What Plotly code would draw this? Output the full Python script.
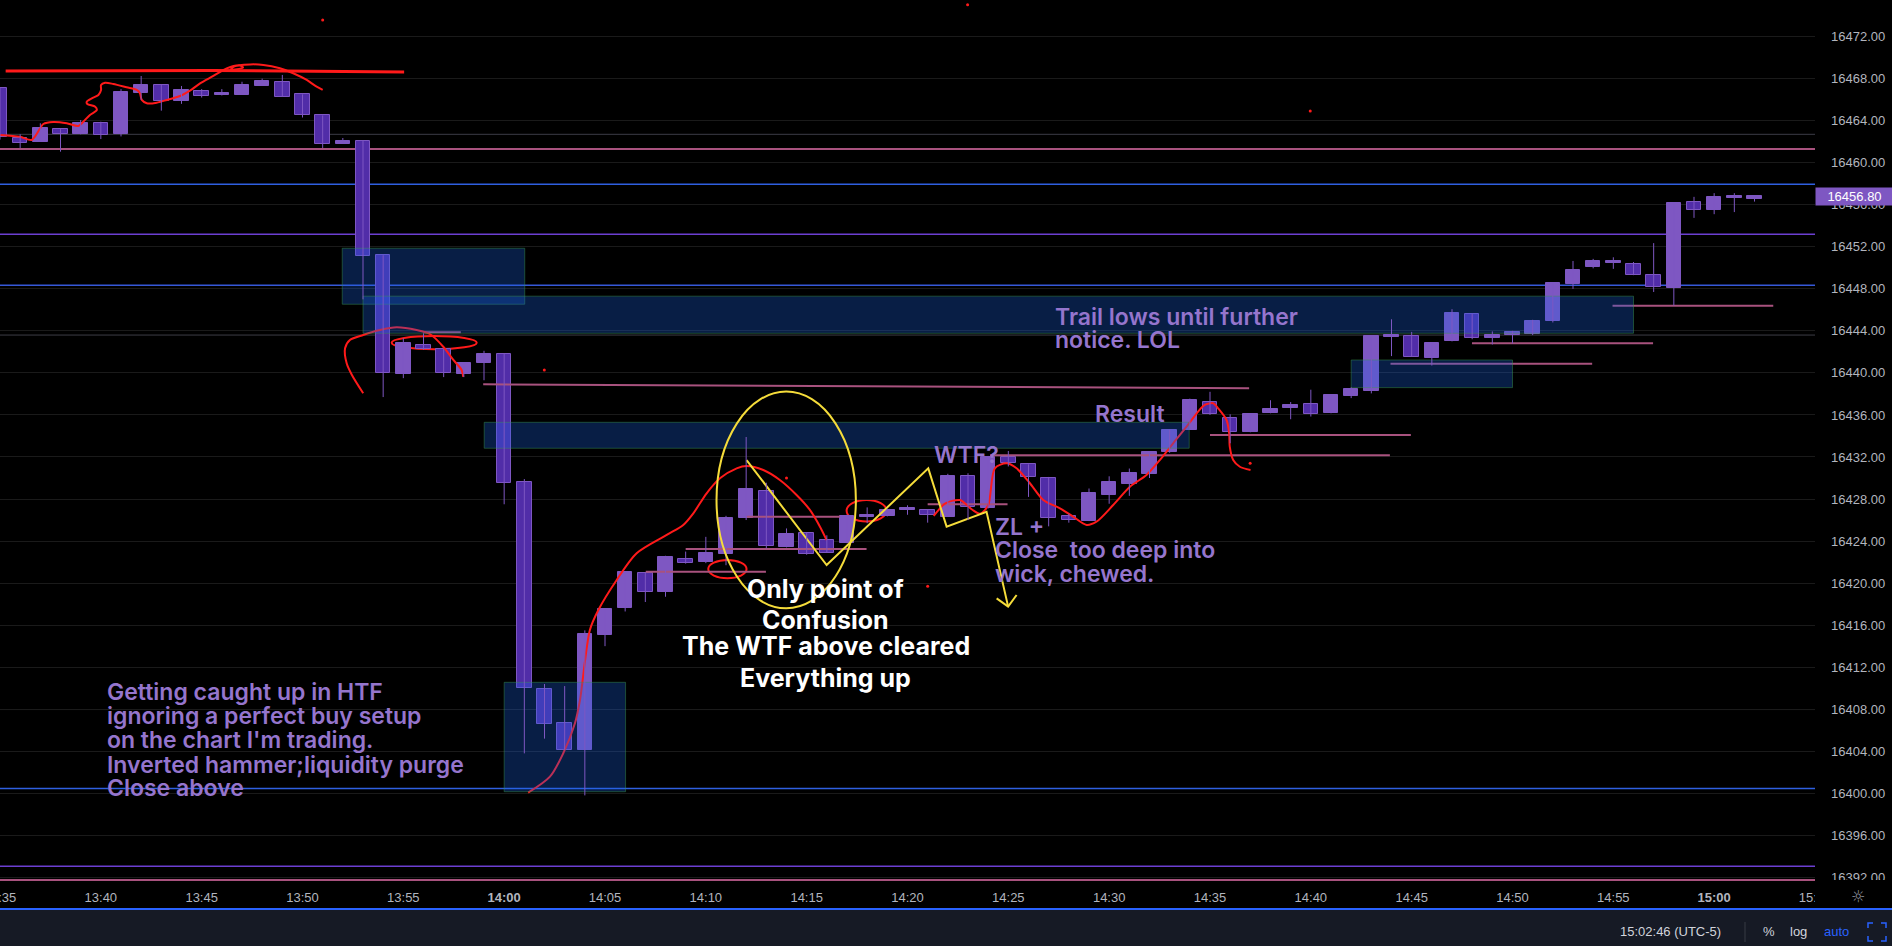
import plotly.graph_objects as go

# ---------------- candle data (x = minutes relative to 14:00) ----------------
minutes = list(range(-25, 63))
opens = [16467.1, 16462.35, 16462.0, 16463.2, 16462.7, 16463.75, 16462.7, 16466.66, 16467.37, 16465.9,
         16466.8, 16466.4, 16466.47, 16467.3, 16467.65, 16466.5, 16464.5, 16461.8, 16462.1, 16451.2,
         16439.9, 16442.7, 16442.27, 16439.93, 16440.9, 16441.8, 16429.6, 16409.9, 16406.66, 16404.1,
         16415.1, 16417.6, 16421.0, 16419.13, 16422.3, 16422.0, 16422.8, 16426.2, 16428.8, 16423.4,
         16424.8, 16424.07, 16423.8, 16426.3, 16426.35, 16426.95, 16427.0, 16426.3, 16430.16, 16427.1,
         16431.97, 16431.3, 16429.97, 16426.4, 16425.9, 16428.4, 16429.45, 16430.4, 16432.5, 16434.6,
         16437.2, 16435.68, 16434.35, 16436.16, 16436.7, 16437.0, 16436.16, 16437.8, 16438.25, 16443.4,
         16443.5, 16441.45, 16443.0, 16445.6, 16443.35, 16443.6, 16443.7, 16444.95, 16448.45, 16450.1,
         16450.45, 16450.36, 16449.3, 16448.1, 16456.3, 16455.5, 16456.65, 16456.55]
highs = [16467.1, 16462.7, 16463.75, 16463.2, 16464.06, 16463.9, 16467.0, 16468.25, 16467.4, 16467.3,
         16467.0, 16467.0, 16467.7, 16468.0, 16468.35, 16466.5, 16464.5, 16462.35, 16462.1, 16451.2,
         16443.3, 16443.77, 16442.27, 16440.94, 16442.1, 16441.8, 16429.9, 16410.4, 16410.2, 16415.5,
         16417.5, 16421.05, 16421.0, 16422.6, 16423.0, 16424.4, 16426.4, 16433.9, 16429.55, 16425.2,
         16424.8, 16424.55, 16426.5, 16427.2, 16427.1, 16427.4, 16427.0, 16430.4, 16430.45, 16432.1,
         16432.57, 16431.3, 16430.1, 16426.6, 16429.0, 16430.16, 16430.9, 16432.5, 16434.6, 16437.55,
         16438.2, 16436.06, 16436.1, 16437.4, 16437.23, 16438.4, 16437.9, 16438.63, 16443.5, 16445.1,
         16443.9, 16442.85, 16446.06, 16445.6, 16443.95, 16444.0, 16445.05, 16448.55, 16450.65, 16450.85,
         16451.0, 16450.55, 16452.35, 16456.2, 16456.75, 16457.1, 16457.1, 16456.85]
lows = [16462.2, 16461.4, 16462.0, 16461.05, 16462.7, 16462.25, 16462.5, 16465.97, 16464.95, 16465.6,
        16466.2, 16466.4, 16466.47, 16467.3, 16466.28, 16464.3, 16461.4, 16461.8, 16447.0, 16437.7,
        16439.5, 16442.2, 16439.6, 16439.6, 16439.3, 16427.5, 16403.8, 16405.2, 16404.1, 16399.8,
        16414.0, 16417.3, 16418.2, 16418.7, 16421.85, 16421.9, 16421.7, 16426.0, 16423.3, 16423.4,
        16422.7, 16422.9, 16423.8, 16425.7, 16426.35, 16426.5, 16425.75, 16426.3, 16426.0, 16427.1,
        16431.1, 16428.2, 16425.4, 16425.75, 16425.9, 16427.55, 16428.3, 16430.0, 16432.4, 16434.6,
        16436.0, 16433.3, 16434.35, 16436.16, 16435.59, 16435.85, 16436.16, 16437.6, 16438.05, 16441.6,
        16441.55, 16440.7, 16443.0, 16443.2, 16442.7, 16442.8, 16443.6, 16444.8, 16448.0, 16449.95,
        16449.9, 16449.3, 16447.7, 16446.4, 16454.75, 16455.1, 16455.3, 16456.3]
closes = [16462.4, 16461.9, 16463.3, 16462.7, 16463.8, 16462.6, 16466.7, 16467.4, 16465.9, 16466.9,
          16466.3, 16466.6, 16467.4, 16467.8, 16466.28, 16464.57, 16461.75, 16462.06, 16451.1, 16440.0,
          16442.85, 16442.3, 16439.96, 16440.94, 16441.8, 16429.5, 16410.0, 16406.6, 16404.1, 16415.15,
          16417.5, 16421.05, 16419.2, 16422.5, 16421.95, 16422.9, 16426.2, 16428.95, 16423.5, 16424.7,
          16422.8, 16422.9, 16426.4, 16426.35, 16426.97, 16427.0, 16426.45, 16430.2, 16427.24, 16432.0,
          16431.4, 16430.07, 16426.17, 16425.97, 16428.55, 16429.6, 16430.45, 16432.5, 16434.6, 16437.4,
          16436.06, 16434.35, 16436.1, 16436.6, 16436.93, 16436.06, 16437.9, 16438.45, 16443.5, 16443.6,
          16441.55, 16442.85, 16445.7, 16443.35, 16443.57, 16443.9, 16444.95, 16448.55, 16449.8, 16450.65,
          16450.6, 16449.3, 16448.2, 16456.2, 16455.5, 16456.75, 16456.7, 16456.8]
last_price = 16456.80

# ---------------- axis ticks ----------------
x_tick_vals = list(range(-25, 66, 5))
x_tick_labels = ["13:35", "13:40", "13:45", "13:50", "13:55", "14:00", "14:05", "14:10", "14:15", "14:20",
                 "14:25", "14:30", "14:35", "14:40", "14:45", "14:50", "14:55", "15:00", "15:05"]
x_bold_labels = ["14:00", "15:00"]
y_tick_vals = list(range(16392, 16473, 4))
y_range = [16391.56, 16475.48]
x_range = [-25, 65]

# ---------------- drawings (minutes, price) ----------------
h_line_prices = [16462.70, 16461.30, 16457.95, 16453.20, 16448.33, 16443.60, 16407.97, 16400.45, 16393.07, 16391.75]
h_line_colors = ["#3c3c46", "#a8527e", "#2f5fe0", "#6c3fd1", "#3658d8", "#3c3c46", "#3c3c46", "#2f5fe0", "#6c3fd1", "#a8527e"]
h_line_widths = [1, 2, 1.5, 1.5, 1.5, 1, 1, 1.5, 1.5, 2]

seg_t0 = [-1.04, 12.02, 9.0, 7.02, 21.0, 24.09, 35.0, 43.95, 47.99, 54.96, -4.0]
seg_t1 = [36.94, 16.65, 17.97, 12.98, 24.96, 43.92, 44.96, 53.95, 56.97, 62.93, -2.15]
seg_p0 = [16438.92, 16426.32, 16423.24, 16421.08, 16427.50, 16432.16, 16434.09, 16440.88, 16442.82, 16446.39, 16443.86]
seg_p1 = [16438.53, 16426.32, 16423.24, 16421.08, 16427.50, 16432.16, 16434.09, 16440.88, 16442.82, 16446.39, 16443.86]

zone_t0 = [-8.03, -7.0, -0.99, 0.0, 42.0]
zone_t1 = [1.02, 56.0, 33.97, 6.02, 50.0]
zone_p0 = [16446.53, 16443.77, 16432.83, 16400.15, 16438.60]
zone_p1 = [16451.86, 16447.30, 16435.30, 16410.56, 16441.23]

red_top_line_t = [-24.72, -14.5, -4.96]
red_top_line_p = [16468.72, 16468.78, 16468.63]

red1_t = [-25.0, -24.01, -23.43, -23.01, -22.85, -22.36, -21.69, -21.12, -20.87, -20.54, -20.20, -20.28, -20.67,
          -20.70, -20.45, -20.12, -19.99, -19.99, -19.79, -19.38, -18.72, -18.22, -18.06, -17.97, -17.72, -17.23,
          -16.73, -16.07, -15.58, -15.08, -14.42, -13.76, -13.10, -12.95, -13.55, -13.40, -12.6, -11.94, -11.12,
          -10.46, -9.79, -9.30, -9.0]
red1_p = [16462.64, 16462.47, 16462.16, 16463.27, 16463.68, 16463.87, 16463.75, 16463.49, 16463.90, 16464.54,
          16465.01, 16465.33, 16465.58, 16465.80, 16466.13, 16466.44, 16466.91, 16467.39, 16467.61, 16467.49,
          16467.17, 16466.92, 16466.60, 16465.97, 16465.65, 16465.71, 16465.97, 16466.35, 16466.85, 16467.55,
          16468.25, 16468.98, 16469.25, 16469.05, 16468.85, 16469.15, 16469.35, 16469.30, 16468.98, 16468.51,
          16467.87, 16467.23, 16466.92]

red2_t = [-6.99, -7.55, -7.81, -7.89, -7.65, -6.99, -6.16, -5.33, -4.34, -3.68, -3.02, -2.52, -2.11, -2.03]
red2_p = [16438.06, 16439.80, 16440.91, 16442.34, 16443.13, 16443.61, 16444.08, 16444.34, 16444.08, 16443.70,
          16442.49, 16441.23, 16440.28, 16439.61]

red3_t = [1.19, 2.27, 2.93, 3.51, 3.76, 4.25, 4.67, 5.58, 6.57, 8.06, 8.88, 9.38, 10.04, 10.70, 11.53, 12.02,
          12.85, 13.67, 14.50, 15.16, 15.66, 15.99]
red3_p = [16400.06, 16401.58, 16403.81, 16406.66, 16408.88, 16415.54, 16417.44, 16420.30, 16422.84, 16424.58,
          16425.53, 16426.64, 16428.54, 16429.97, 16430.92, 16431.14, 16430.76, 16429.81, 16428.38, 16426.96,
          16425.37, 16424.10]

red4_t = [21.3, 21.9, 22.6, 23.2, 23.6, 24.0, 24.33, 24.91, 25.41, 26.07, 26.73, 27.56, 28.21, 28.88, 29.37,
          30.20, 31.03, 31.85, 32.51, 33.17, 33.84, 34.41, 34.74, 35.16, 35.40, 35.82, 35.95, 35.98, 36.15,
          36.48, 37.01]
red4_p = [16426.4, 16427.6, 16427.9, 16427.0, 16426.6, 16427.4, 16430.92, 16431.40, 16430.92, 16429.50,
          16427.91, 16427.12, 16426.32, 16425.53, 16425.84, 16427.43, 16429.17, 16430.29, 16431.71, 16433.30,
          16434.88, 16436.31, 16436.95, 16437.11, 16436.63, 16435.52, 16434.25, 16432.98, 16431.71, 16431.07,
          16430.76]

red_ellipse_t0 = [-5.58, 10.12, 16.98]
red_ellipse_t1 = [-1.36, 12.02, 18.96]
red_ellipse_p0 = [16442.25, 16420.46, 16425.85]
red_ellipse_p1 = [16443.51, 16422.20, 16427.91]

red_dot_t = [-9.0, 22.98, 39.97, 1.99, 14.0, 21.0, 36.99]
red_dot_p = [16473.58, 16475.02, 16464.92, 16440.28, 16430.0, 16419.70, 16431.40]

yellow_ellipse = [10.53, 17.44, 16417.60, 16438.22]
yellow_zig_t = [12.02, 15.99, 21.03, 21.94, 23.92, 24.99]
yellow_zig_p = [16431.71, 16421.72, 16430.92, 16425.37, 16426.79, 16417.76]
yellow_arrow_t = [24.42, 24.99, 25.41]
yellow_arrow_p = [16418.55, 16417.76, 16418.87]

# ---------------- notes ----------------
purple_notes = ["Getting caught up in HTF", "ignoring a perfect buy setup", "on the chart I'm trading.",
                "Inverted hammer;liquidity purge", "Close above", "WTF?", "ZL +",
                "Close\u00a0 too deep into", "wick, chewed.", "Result", "Trail lows until further", "notice. LOL"]
purple_note_t = [-19.79, -19.79, -19.79, -19.79, -19.79, 21.19, 24.25, 24.25, 24.25, 29.21, 27.19, 27.19]
purple_note_p = [16409.66, 16407.38, 16405.10, 16402.74, 16400.46, 16432.19, 16425.33, 16423.12, 16420.89,
                 16436.12, 16445.32, 16443.10]
white_notes = ["Only point of", "Confusion", "The WTF above cleared", "Everything up"]
white_note_t = [15.94, 15.94, 15.94, 15.94]
white_note_p = [16419.41, 16416.46, 16413.99, 16411.00]

UP = "#7e57c2"
DOWN = "#512da8"
RED = "#ff1a1a"
YELLOW = "#f5dc3a"
PINK = "#a8527e"
PURPLE_TEXT = "#9575cd"

fig = go.Figure()

# pink drawn segments
for a, b, c, d in zip(seg_t0, seg_t1, seg_p0, seg_p1):
    fig.add_trace(go.Scatter(x=[a, b], y=[c, d], mode="lines", line=dict(color=PINK, width=2),
                             hoverinfo="skip", showlegend=False))

# red hand-drawn curves (under the zones)
for tt, pp, w in [(red_top_line_t, red_top_line_p, 3), (red1_t, red1_p, 2), (red2_t, red2_p, 2),
                  (red3_t, red3_p, 2), (red4_t, red4_p, 2)]:
    fig.add_trace(go.Scatter(x=tt, y=pp, mode="lines", line=dict(color=RED, width=w, shape="spline", smoothing=0.8),
                             hoverinfo="skip", showlegend=False))

# zones
for a, b, c, d in zip(zone_t0, zone_t1, zone_p0, zone_p1):
    fig.add_trace(go.Scatter(x=[a, b, b, a, a], y=[c, c, d, d, c], mode="lines", fill="toself",
                             fillcolor="rgba(25,100,230,0.30)", line=dict(color="rgba(60,150,80,0.45)", width=1),
                             hoverinfo="skip", showlegend=False))

# yellow zigzag
fig.add_trace(go.Scatter(x=yellow_zig_t, y=yellow_zig_p, mode="lines", line=dict(color=YELLOW, width=2),
                         hoverinfo="skip", showlegend=False))
fig.add_trace(go.Scatter(x=yellow_arrow_t, y=yellow_arrow_p, mode="lines", line=dict(color=YELLOW, width=2),
                         hoverinfo="skip", showlegend=False))

# candles: wicks
wx, wy = [], []
for t, h, l in zip(minutes, highs, lows):
    wx += [t, t, None]
    wy += [l, h, None]
fig.add_trace(go.Scatter(x=wx, y=wy, mode="lines", line=dict(color=UP, width=1), hoverinfo="skip", showlegend=False))

# candles: bodies
body_base = [min(o, c) for o, c in zip(opens, closes)]
body_h = [max(abs(c - o), 0.15) for o, c in zip(opens, closes)]
body_col = [UP if c >= o else DOWN for o, c in zip(opens, closes)]
fig.add_trace(go.Bar(x=minutes, y=body_h, base=body_base, width=0.72,
                     marker=dict(color=body_col, line=dict(color=UP, width=1)),
                     hoverinfo="skip", showlegend=False))

# red dots
fig.add_trace(go.Scatter(x=red_dot_t, y=red_dot_p, mode="markers", marker=dict(color=RED, size=3),
                         hoverinfo="skip", showlegend=False))

shapes = []
for p, c, w in zip(h_line_prices, h_line_colors, h_line_widths):
    shapes.append(dict(type="line", xref="paper", x0=0, x1=1, yref="y", y0=p, y1=p,
                       line=dict(color=c, width=w), layer="below"))
for a, b, c, d in zip(red_ellipse_t0, red_ellipse_t1, red_ellipse_p0, red_ellipse_p1):
    shapes.append(dict(type="circle", xref="x", yref="y", x0=a, x1=b, y0=c, y1=d,
                       line=dict(color=RED, width=2), layer="below"))
shapes.append(dict(type="circle", xref="x", yref="y", x0=yellow_ellipse[0], x1=yellow_ellipse[1],
                   y0=yellow_ellipse[2], y1=yellow_ellipse[3], line=dict(color=YELLOW, width=2), layer="above"))

# bottom toolbar and price-axis corner
PH = 882.0
shapes.append(dict(type="rect", xref="paper", yref="paper", x0=1.0, x1=1.05, y0=-26 / PH, y1=2 / PH,
                   fillcolor="#000000", line=dict(width=0), layer="above"))
shapes.append(dict(type="rect", xref="paper", yref="paper", x0=-0.01, x1=1.05, y0=-64 / PH, y1=-26 / PH,
                   fillcolor="#161a25", line=dict(width=0), layer="above"))
shapes.append(dict(type="line", xref="paper", yref="paper", x0=-0.01, x1=1.05, y0=-27 / PH, y1=-27 / PH,
                   line=dict(color="#2962ff", width=2), layer="above"))
shapes.append(dict(type="line", xref="paper", yref="paper", x0=1745 / 1815, x1=1745 / 1815, y0=-40 / PH,
                   y1=-60 / PH, line=dict(color="#363a45", width=1), layer="above"))
# fullscreen bracket icon
bx0, bx1, by0, by1 = 1868 / 1815, 1886 / 1815, -41 / PH, -59 / PH
dx, dy = 5 / 1815, 5 / PH
for (cx, cy, sx, sy) in [(bx0, by0, 1, -1), (bx1, by0, -1, -1), (bx0, by1, 1, 1), (bx1, by1, -1, 1)]:
    shapes.append(dict(type="path", xref="paper", yref="paper",
                       path=f"M {cx + sx * dx:.5f},{cy:.5f} L {cx:.5f},{cy:.5f} L {cx:.5f},{cy + sy * dy:.5f}",
                       line=dict(color="#2962ff", width=1.5), layer="above"))

NOTE_FONT = "Inter SemiBold, Inter, Liberation Sans"
annotations = []
for txt, t, p in zip(purple_notes, purple_note_t, purple_note_p):
    annotations.append(dict(x=t, y=p, xref="x", yref="y", text=txt, showarrow=False, xanchor="left",
                            yanchor="middle", font=dict(family=NOTE_FONT, size=23, color=PURPLE_TEXT, weight=600)))
for txt, t, p in zip(white_notes, white_note_t, white_note_p):
    annotations.append(dict(x=t, y=p, xref="x", yref="y", text=txt, showarrow=False, xanchor="center",
                            yanchor="middle", font=dict(family="Inter", size=25, color="#ffffff", weight=700)))
annotations.append(dict(x=1.0, y=last_price, xref="paper", yref="y", text=f"{last_price:.2f}", showarrow=False,
                        xanchor="left", yanchor="middle", bgcolor=UP, width=75, height=15, borderpad=1,
                        font=dict(family="Liberation Sans", size=13, color="#ffffff")))
annotations.append(dict(x=1858 / 1815, y=-14 / PH, xref="paper", yref="paper", text="\u263c", showarrow=False,
                        xanchor="center", yanchor="middle",
                        font=dict(family="DejaVu Sans", size=16, color="#9598a1")))
for txt, xp, col in [("15:02:46 (UTC-5)", 1670 / 1815, "#d1d4dc"), ("%", 1768.5 / 1815, "#d1d4dc"),
                     ("log", 1798 / 1815, "#d1d4dc"), ("auto", 1836.5 / 1815, "#2962ff")]:
    annotations.append(dict(x=xp, y=-49.7 / PH, xref="paper", yref="paper", text=txt, showarrow=False,
                            xanchor="center", yanchor="middle",
                            font=dict(family="Liberation Sans", size=13, color=col)))

tick_text = [f"<b>{s}</b>" if s in x_bold_labels else s for s in x_tick_labels]

fig.update_layout(
    width=1892, height=946,
    margin=dict(l=0, r=77, t=0, b=64, autoexpand=False),
    paper_bgcolor="#000000", plot_bgcolor="#000000",
    barmode="overlay", bargap=0,
    showlegend=False,
    shapes=shapes, annotations=annotations,
    xaxis=dict(range=x_range, tickvals=x_tick_vals, ticktext=tick_text, showgrid=False, zeroline=False,
               showline=False, ticks="", ticklabelstandoff=6, ticklabeloverflow="allow", automargin=False,
               tickfont=dict(family="Liberation Sans", size=13, color="#b2b5be"), fixedrange=True),
    yaxis=dict(range=y_range, side="right", tickvals=y_tick_vals, ticktext=[f"{v:.2f}" for v in y_tick_vals],
               showgrid=True, gridcolor="#1a1a1a", gridwidth=1, zeroline=False, showline=False, ticks="",
               ticklabelstandoff=15, automargin=False,
               tickfont=dict(family="Liberation Sans", size=13, color="#b2b5be"), fixedrange=True),
)

fig.write_html("out.html", config={"displayModeBar": False},
               post_script="document.body.style.margin='0';document.body.style.background='#000';")
